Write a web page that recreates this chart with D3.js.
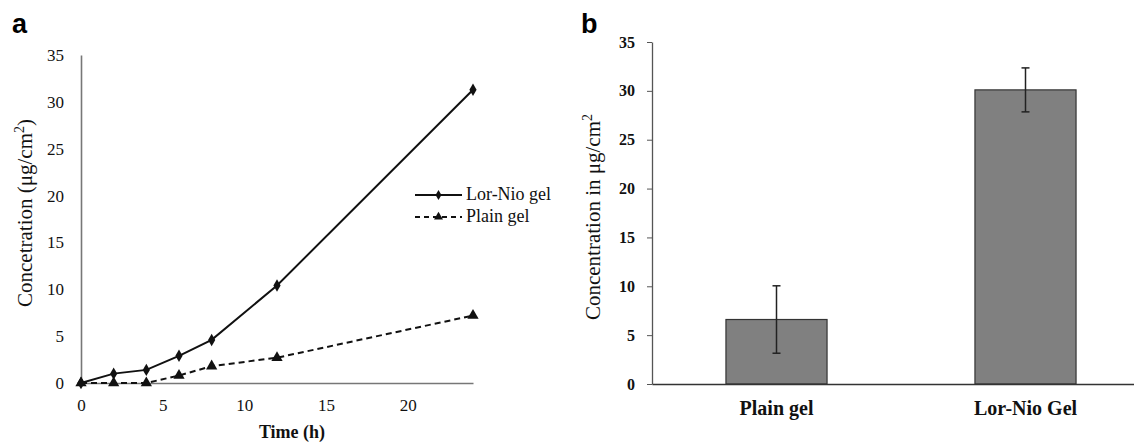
<!DOCTYPE html>
<html><head><meta charset="utf-8">
<script src="https://cdn.jsdelivr.net/npm/d3@7"></script>
<style>body{margin:0;background:#fff}svg{display:block}</style>
</head><body>
<svg id="c" width="1134" height="443"></svg>
<script>
// Panel a data
const timeHours = [0, 2, 4, 6, 8, 12, 24];
const lorNioGel = [0, 1.0, 1.4, 2.9, 4.6, 10.4, 31.3];
const plainGel = [0, 0, 0, 0.8, 1.8, 2.7, 7.2];
const seriesNames = ["Lor-Nio gel", "Plain gel"];
const xTicksA = [0, 5, 10, 15, 20];
const yTicks = [0, 5, 10, 15, 20, 25, 30, 35];
// Panel b data
const barCategories = ["Plain gel", "Lor-Nio Gel"];
const barValues = [6.6, 30.1];
const barErrors = [3.45, 2.25];

const svg = d3.select("#c");
const serif = "'Liberation Serif', 'DejaVu Serif', serif";
const sans = "'Liberation Sans', Arial, sans-serif";
const axisCol = "#777";

// ---------- Panel a ----------
const xA = d3.scaleLinear().domain([0, 24]).range([81, 473]);
const yA = d3.scaleLinear().domain([0, 35]).range([383, 55]);
const gA = svg.append("g");

gA.append("text").attr("x", 12).attr("y", 33).text("a")
  .attr("font-family", sans).attr("font-weight", "bold").attr("font-size", 27);

const axA = gA.append("g").attr("transform", `translate(0,${yA(0)})`)
  .call(d3.axisBottom(xA).tickValues(xTicksA).tickSize(0).tickPadding(16).tickFormat(d3.format("d")));
const ayA = gA.append("g").attr("transform", `translate(${xA(0)},0)`)
  .call(d3.axisLeft(yA).tickValues(yTicks).tickSize(0).tickPadding(17));
[axA, ayA].forEach(a => {
  a.select(".domain").attr("stroke", axisCol).attr("stroke-width", 1.6);
  a.selectAll("text").attr("font-family", serif).attr("font-size", 17).attr("fill", "#111");
});

gA.append("text").attr("transform", `translate(32,213) rotate(-90)`)
  .attr("text-anchor", "middle").attr("font-family", serif).attr("font-size", 21).attr("fill", "#111")
  .html("Concetration (μg/cm<tspan dy='-8' font-size='14'>2</tspan><tspan dy='8'>)</tspan>");
gA.append("text").attr("x", 292).attr("y", 438).attr("text-anchor", "middle")
  .attr("font-family", serif).attr("font-size", 18).attr("font-weight", "bold").attr("fill", "#111")
  .text("Time (h)");

const line = d3.line().x(d => xA(d[0])).y(d => yA(d[1]));
const diamond = d3.symbol().type(d3.symbolDiamond).size(45);
const tri = d3.symbol().type(d3.symbolTriangle).size(55);

const s1 = timeHours.map((t, i) => [t, lorNioGel[i]]);
const s2 = timeHours.map((t, i) => [t, plainGel[i]]);
gA.append("path").datum(s2).attr("d", line).attr("fill", "none").attr("stroke", "#111")
  .attr("stroke-width", 2).attr("stroke-dasharray", "6,4");
gA.append("path").datum(s1).attr("d", line).attr("fill", "none").attr("stroke", "#111").attr("stroke-width", 2);
gA.selectAll(".m2").data(s2).join("path").attr("d", tri)
  .attr("transform", d => `translate(${xA(d[0])},${yA(d[1])})`).attr("fill", "#111");
gA.selectAll(".m1").data(s1).join("path").attr("d", diamond)
  .attr("transform", d => `translate(${xA(d[0])},${yA(d[1])})`).attr("fill", "#111");

// legend
const lg = gA.append("g");
seriesNames.forEach((name, i) => {
  const y = 195 + i * 22;
  lg.append("line").attr("x1", 415).attr("x2", 462).attr("y1", y).attr("y2", y)
    .attr("stroke", "#111").attr("stroke-width", 2).attr("stroke-dasharray", i ? "5,4" : null);
  lg.append("path").attr("d", i ? d3.symbol().type(d3.symbolTriangle).size(35) : d3.symbol().type(d3.symbolDiamond).size(30))
    .attr("transform", `translate(438.5,${y})`).attr("fill", "#111");
  lg.append("text").attr("x", 466).attr("y", y + 5).text(name)
    .attr("font-family", serif).attr("font-size", 18).attr("fill", "#111");
});

// ---------- Panel b ----------
const xB = d3.scaleBand().domain(barCategories).range([652, 1150]).paddingInner(0.594).paddingOuter(0.297);
const yB = d3.scaleLinear().domain([0, 35]).range([384, 42]);
const gB = svg.append("g");

gB.append("text").attr("x", 581).attr("y", 33).text("b")
  .attr("font-family", sans).attr("font-weight", "bold").attr("font-size", 27);

gB.selectAll(".bar").data(barCategories).join("rect")
  .attr("x", d => xB(d)).attr("width", xB.bandwidth())
  .attr("y", (d, i) => yB(barValues[i])).attr("height", (d, i) => yB(0) - yB(barValues[i]))
  .attr("fill", "#808080").attr("stroke", "#333").attr("stroke-width", 1.2);

barCategories.forEach((c, i) => {
  const cx = xB(c) + xB.bandwidth() / 2;
  const y1 = yB(barValues[i] + barErrors[i]), y2 = yB(barValues[i] - barErrors[i]);
  gB.append("line").attr("x1", cx).attr("x2", cx).attr("y1", y1).attr("y2", y2).attr("stroke", "#222").attr("stroke-width", 1.5);
  [y1, y2].forEach(y => gB.append("line").attr("x1", cx - 4).attr("x2", cx + 4).attr("y1", y).attr("y2", y)
    .attr("stroke", "#222").attr("stroke-width", 1.5));
});

const ayB = gB.append("g").attr("transform", "translate(652,0)")
  .call(d3.axisLeft(yB).tickValues(yTicks).tickSize(5).tickSizeOuter(0).tickPadding(12));
ayB.select(".domain").attr("stroke", "#555").attr("stroke-width", 1.3);
ayB.selectAll(".tick line").attr("stroke", "#555");
ayB.selectAll("text").attr("font-family", serif).attr("font-size", 16).attr("font-weight", "bold").attr("fill", "#111");

const axB = gB.append("g").attr("transform", `translate(0,${yB(0)})`)
  .call(d3.axisBottom(xB).tickSize(0).tickSizeOuter(0).tickPadding(17));
axB.select(".domain").attr("stroke", "#333").attr("stroke-width", 1.3);
axB.selectAll("text").attr("font-family", serif).attr("font-size", 20).attr("font-weight", "bold").attr("fill", "#111");

gB.append("text").attr("transform", `translate(600,217) rotate(-90)`)
  .attr("text-anchor", "middle").attr("font-family", serif).attr("font-size", 21).attr("fill", "#111")
  .html("Concentration in μg/cm<tspan dy='-8' font-size='14'>2</tspan>");
</script>
</body></html>
